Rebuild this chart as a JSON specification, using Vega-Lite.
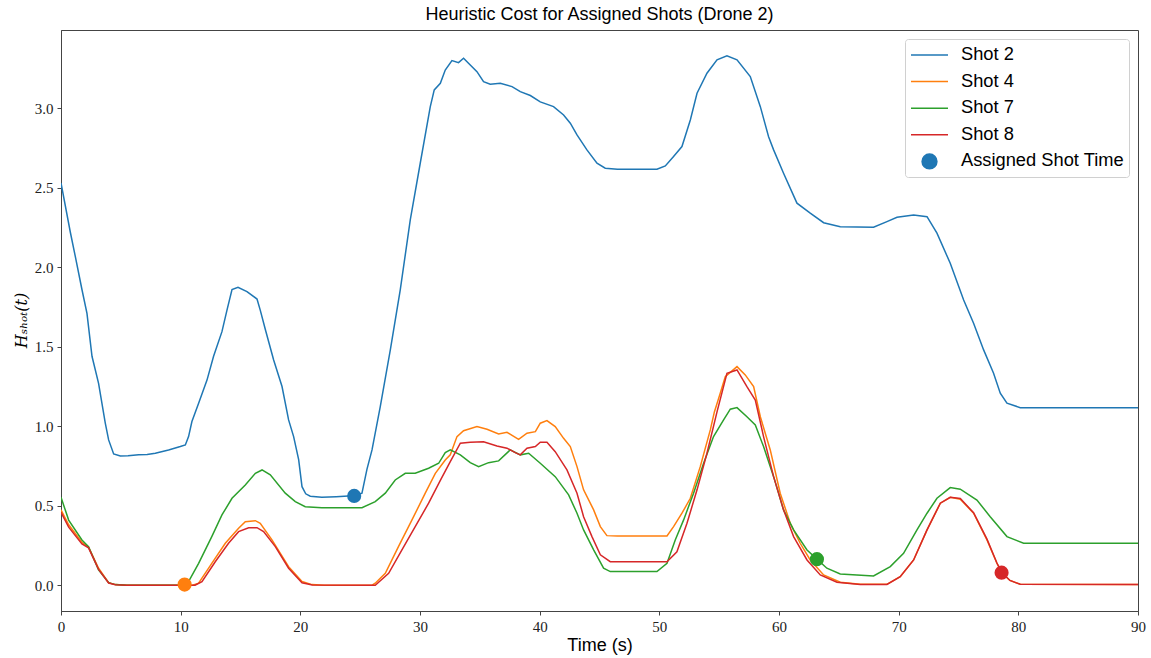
{
  "$schema": "https://vega.github.io/schema/vega-lite/v6.json",
  "width": 1077,
  "height": 581,
  "autosize": {"type": "none"},
  "padding": {"left": 61, "top": 30, "right": 13, "bottom": 47},
  "background": "white",
  "title": {
    "text": "Heuristic Cost for Assigned Shots (Drone 2)",
    "font": "Liberation Sans",
    "fontSize": 18,
    "fontWeight": "normal",
    "color": "black",
    "anchor": "middle",
    "frame": "group",
    "offset": 6
  },
  "config": {
    "view": {"stroke": "#444", "strokeWidth": 1},
    "axis": {
      "grid": false,
      "domainColor": "#444",
      "tickColor": "#444",
      "tickSize": 4,
      "labelFont": "Liberation Serif",
      "labelFontSize": 15,
      "labelColor": "#222",
      "labelPadding": 4,
      "labelFlush": false,
      "titleColor": "black"
    }
  },
  "datasets": {
    "curves": [
      {"shot": "Shot 2", "t": 0, "h": 2.53}, {"shot": "Shot 2", "t": 0.78, "h": 2.22}, {"shot": "Shot 2", "t": 1.19, "h": 2.07},
      {"shot": "Shot 2", "t": 1.75, "h": 1.86}, {"shot": "Shot 2", "t": 2.17, "h": 1.71}, {"shot": "Shot 2", "t": 2.59, "h": 1.44},
      {"shot": "Shot 2", "t": 3.14, "h": 1.27}, {"shot": "Shot 2", "t": 3.7, "h": 1.02}, {"shot": "Shot 2", "t": 3.98, "h": 0.914},
      {"shot": "Shot 2", "t": 4.4, "h": 0.826}, {"shot": "Shot 2", "t": 4.96, "h": 0.813}, {"shot": "Shot 2", "t": 5.6, "h": 0.815},
      {"shot": "Shot 2", "t": 6.49, "h": 0.82}, {"shot": "Shot 2", "t": 7.2, "h": 0.822}, {"shot": "Shot 2", "t": 7.88, "h": 0.83},
      {"shot": "Shot 2", "t": 8.99, "h": 0.851}, {"shot": "Shot 2", "t": 9.97, "h": 0.872}, {"shot": "Shot 2", "t": 10.39, "h": 0.882},
      {"shot": "Shot 2", "t": 10.66, "h": 0.935}, {"shot": "Shot 2", "t": 10.94, "h": 1.03}, {"shot": "Shot 2", "t": 11.5, "h": 1.145},
      {"shot": "Shot 2", "t": 12.2, "h": 1.29}, {"shot": "Shot 2", "t": 12.75, "h": 1.44}, {"shot": "Shot 2", "t": 13.45, "h": 1.595},
      {"shot": "Shot 2", "t": 13.87, "h": 1.73}, {"shot": "Shot 2", "t": 14.29, "h": 1.86}, {"shot": "Shot 2", "t": 14.79, "h": 1.874},
      {"shot": "Shot 2", "t": 15.54, "h": 1.847}, {"shot": "Shot 2", "t": 16.38, "h": 1.8}, {"shot": "Shot 2", "t": 16.65, "h": 1.73},
      {"shot": "Shot 2", "t": 17.07, "h": 1.61}, {"shot": "Shot 2", "t": 17.77, "h": 1.417}, {"shot": "Shot 2", "t": 18.47, "h": 1.25},
      {"shot": "Shot 2", "t": 19.02, "h": 1.04}, {"shot": "Shot 2", "t": 19.44, "h": 0.935}, {"shot": "Shot 2", "t": 19.86, "h": 0.79},
      {"shot": "Shot 2", "t": 20.14, "h": 0.62}, {"shot": "Shot 2", "t": 20.45, "h": 0.575}, {"shot": "Shot 2", "t": 20.83, "h": 0.56},
      {"shot": "Shot 2", "t": 21.8, "h": 0.553}, {"shot": "Shot 2", "t": 23.0, "h": 0.557}, {"shot": "Shot 2", "t": 24.0, "h": 0.562},
      {"shot": "Shot 2", "t": 24.5, "h": 0.562}, {"shot": "Shot 2", "t": 25.15, "h": 0.579}, {"shot": "Shot 2", "t": 25.57, "h": 0.73},
      {"shot": "Shot 2", "t": 25.99, "h": 0.851}, {"shot": "Shot 2", "t": 26.68, "h": 1.123}, {"shot": "Shot 2", "t": 27.52, "h": 1.48},
      {"shot": "Shot 2", "t": 28.35, "h": 1.857}, {"shot": "Shot 2", "t": 29.19, "h": 2.3}, {"shot": "Shot 2", "t": 30.02, "h": 2.654},
      {"shot": "Shot 2", "t": 30.86, "h": 3.01}, {"shot": "Shot 2", "t": 31.19, "h": 3.115}, {"shot": "Shot 2", "t": 31.7, "h": 3.157},
      {"shot": "Shot 2", "t": 32.11, "h": 3.24}, {"shot": "Shot 2", "t": 32.67, "h": 3.3}, {"shot": "Shot 2", "t": 33.22, "h": 3.287},
      {"shot": "Shot 2", "t": 33.64, "h": 3.314}, {"shot": "Shot 2", "t": 34.2, "h": 3.272}, {"shot": "Shot 2", "t": 34.76, "h": 3.23},
      {"shot": "Shot 2", "t": 35.31, "h": 3.167}, {"shot": "Shot 2", "t": 35.87, "h": 3.151}, {"shot": "Shot 2", "t": 36.71, "h": 3.157},
      {"shot": "Shot 2", "t": 37.69, "h": 3.136}, {"shot": "Shot 2", "t": 38.38, "h": 3.104}, {"shot": "Shot 2", "t": 39.22, "h": 3.08},
      {"shot": "Shot 2", "t": 40.05, "h": 3.04}, {"shot": "Shot 2", "t": 41.16, "h": 3.01}, {"shot": "Shot 2", "t": 42.0, "h": 2.958},
      {"shot": "Shot 2", "t": 42.56, "h": 2.906}, {"shot": "Shot 2", "t": 43.12, "h": 2.832}, {"shot": "Shot 2", "t": 43.95, "h": 2.738},
      {"shot": "Shot 2", "t": 44.79, "h": 2.654}, {"shot": "Shot 2", "t": 45.48, "h": 2.623}, {"shot": "Shot 2", "t": 46.5, "h": 2.616},
      {"shot": "Shot 2", "t": 49.8, "h": 2.616}, {"shot": "Shot 2", "t": 50.5, "h": 2.637}, {"shot": "Shot 2", "t": 51.19, "h": 2.696},
      {"shot": "Shot 2", "t": 51.89, "h": 2.759}, {"shot": "Shot 2", "t": 52.59, "h": 2.926}, {"shot": "Shot 2", "t": 53.15, "h": 3.094},
      {"shot": "Shot 2", "t": 53.98, "h": 3.22}, {"shot": "Shot 2", "t": 54.82, "h": 3.304}, {"shot": "Shot 2", "t": 55.65, "h": 3.329},
      {"shot": "Shot 2", "t": 56.49, "h": 3.304}, {"shot": "Shot 2", "t": 57.6, "h": 3.199}, {"shot": "Shot 2", "t": 58.44, "h": 3.01},
      {"shot": "Shot 2", "t": 59.13, "h": 2.821}, {"shot": "Shot 2", "t": 59.55, "h": 2.738}, {"shot": "Shot 2", "t": 60.38, "h": 2.591},
      {"shot": "Shot 2", "t": 61.5, "h": 2.403}, {"shot": "Shot 2", "t": 62.61, "h": 2.34}, {"shot": "Shot 2", "t": 63.73, "h": 2.28},
      {"shot": "Shot 2", "t": 65.12, "h": 2.255}, {"shot": "Shot 2", "t": 67.9, "h": 2.252}, {"shot": "Shot 2", "t": 69.02, "h": 2.287},
      {"shot": "Shot 2", "t": 69.86, "h": 2.314}, {"shot": "Shot 2", "t": 71.25, "h": 2.329}, {"shot": "Shot 2", "t": 72.37, "h": 2.318},
      {"shot": "Shot 2", "t": 73.2, "h": 2.214}, {"shot": "Shot 2", "t": 74.31, "h": 2.025}, {"shot": "Shot 2", "t": 75.43, "h": 1.794},
      {"shot": "Shot 2", "t": 76.26, "h": 1.648}, {"shot": "Shot 2", "t": 77.1, "h": 1.48}, {"shot": "Shot 2", "t": 77.93, "h": 1.333},
      {"shot": "Shot 2", "t": 78.49, "h": 1.208}, {"shot": "Shot 2", "t": 79.05, "h": 1.145}, {"shot": "Shot 2", "t": 80.16, "h": 1.117},
      {"shot": "Shot 2", "t": 90, "h": 1.117},

      {"shot": "Shot 4", "t": 0, "h": 0.474}, {"shot": "Shot 4", "t": 0.64, "h": 0.38}, {"shot": "Shot 4", "t": 1.75, "h": 0.27},
      {"shot": "Shot 4", "t": 2.3, "h": 0.24}, {"shot": "Shot 4", "t": 3.14, "h": 0.107}, {"shot": "Shot 4", "t": 3.98, "h": 0.016},
      {"shot": "Shot 4", "t": 4.54, "h": 0.004}, {"shot": "Shot 4", "t": 5.5, "h": 0.0}, {"shot": "Shot 4", "t": 11.0, "h": 0.0},
      {"shot": "Shot 4", "t": 11.5, "h": 0.013}, {"shot": "Shot 4", "t": 12.6, "h": 0.138}, {"shot": "Shot 4", "t": 13.73, "h": 0.264},
      {"shot": "Shot 4", "t": 14.84, "h": 0.358}, {"shot": "Shot 4", "t": 15.4, "h": 0.4}, {"shot": "Shot 4", "t": 16.24, "h": 0.406},
      {"shot": "Shot 4", "t": 16.65, "h": 0.39}, {"shot": "Shot 4", "t": 17.63, "h": 0.285}, {"shot": "Shot 4", "t": 19.02, "h": 0.117},
      {"shot": "Shot 4", "t": 20.14, "h": 0.023}, {"shot": "Shot 4", "t": 20.97, "h": 0.004}, {"shot": "Shot 4", "t": 22.0, "h": 0.0},
      {"shot": "Shot 4", "t": 26.0, "h": 0.0}, {"shot": "Shot 4", "t": 26.26, "h": 0.013}, {"shot": "Shot 4", "t": 27.1, "h": 0.075},
      {"shot": "Shot 4", "t": 28.2, "h": 0.243}, {"shot": "Shot 4", "t": 29.33, "h": 0.411}, {"shot": "Shot 4", "t": 30.44, "h": 0.579},
      {"shot": "Shot 4", "t": 31.28, "h": 0.704}, {"shot": "Shot 4", "t": 32.11, "h": 0.788}, {"shot": "Shot 4", "t": 32.53, "h": 0.82},
      {"shot": "Shot 4", "t": 33.09, "h": 0.935}, {"shot": "Shot 4", "t": 33.64, "h": 0.972}, {"shot": "Shot 4", "t": 34.76, "h": 0.998},
      {"shot": "Shot 4", "t": 35.6, "h": 0.981}, {"shot": "Shot 4", "t": 36.57, "h": 0.952}, {"shot": "Shot 4", "t": 37.27, "h": 0.962},
      {"shot": "Shot 4", "t": 38.24, "h": 0.918}, {"shot": "Shot 4", "t": 38.94, "h": 0.956}, {"shot": "Shot 4", "t": 39.64, "h": 0.966},
      {"shot": "Shot 4", "t": 40.05, "h": 1.019}, {"shot": "Shot 4", "t": 40.61, "h": 1.035}, {"shot": "Shot 4", "t": 41.3, "h": 0.998},
      {"shot": "Shot 4", "t": 42.0, "h": 0.924}, {"shot": "Shot 4", "t": 42.56, "h": 0.872}, {"shot": "Shot 4", "t": 43.12, "h": 0.746},
      {"shot": "Shot 4", "t": 43.67, "h": 0.6}, {"shot": "Shot 4", "t": 44.51, "h": 0.474}, {"shot": "Shot 4", "t": 45.07, "h": 0.369},
      {"shot": "Shot 4", "t": 45.62, "h": 0.312}, {"shot": "Shot 4", "t": 46.5, "h": 0.31}, {"shot": "Shot 4", "t": 50.64, "h": 0.31},
      {"shot": "Shot 4", "t": 51.19, "h": 0.369}, {"shot": "Shot 4", "t": 51.89, "h": 0.453}, {"shot": "Shot 4", "t": 52.59, "h": 0.547},
      {"shot": "Shot 4", "t": 53.42, "h": 0.746}, {"shot": "Shot 4", "t": 54.26, "h": 0.977}, {"shot": "Shot 4", "t": 54.6, "h": 1.09},
      {"shot": "Shot 4", "t": 55.09, "h": 1.208}, {"shot": "Shot 4", "t": 55.51, "h": 1.312}, {"shot": "Shot 4", "t": 56.49, "h": 1.375},
      {"shot": "Shot 4", "t": 57.18, "h": 1.323}, {"shot": "Shot 4", "t": 57.88, "h": 1.249}, {"shot": "Shot 4", "t": 58.44, "h": 1.06},
      {"shot": "Shot 4", "t": 59.27, "h": 0.851}, {"shot": "Shot 4", "t": 60.1, "h": 0.579}, {"shot": "Shot 4", "t": 60.94, "h": 0.39},
      {"shot": "Shot 4", "t": 61.77, "h": 0.264}, {"shot": "Shot 4", "t": 62.61, "h": 0.159}, {"shot": "Shot 4", "t": 63.73, "h": 0.065},
      {"shot": "Shot 4", "t": 65.12, "h": 0.019}, {"shot": "Shot 4", "t": 66.79, "h": 0.006}, {"shot": "Shot 4", "t": 69.02, "h": 0.006},
      {"shot": "Shot 4", "t": 70.13, "h": 0.054}, {"shot": "Shot 4", "t": 71.25, "h": 0.159}, {"shot": "Shot 4", "t": 72.37, "h": 0.348},
      {"shot": "Shot 4", "t": 73.48, "h": 0.516}, {"shot": "Shot 4", "t": 74.31, "h": 0.553}, {"shot": "Shot 4", "t": 75.15, "h": 0.541},
      {"shot": "Shot 4", "t": 76.26, "h": 0.453}, {"shot": "Shot 4", "t": 77.38, "h": 0.285}, {"shot": "Shot 4", "t": 78.21, "h": 0.138},
      {"shot": "Shot 4", "t": 78.63, "h": 0.079}, {"shot": "Shot 4", "t": 79.3, "h": 0.03}, {"shot": "Shot 4", "t": 80.16, "h": 0.006},
      {"shot": "Shot 4", "t": 90, "h": 0.005},

      {"shot": "Shot 7", "t": 0, "h": 0.553}, {"shot": "Shot 7", "t": 0.64, "h": 0.41}, {"shot": "Shot 7", "t": 1.75, "h": 0.285},
      {"shot": "Shot 7", "t": 2.3, "h": 0.243}, {"shot": "Shot 7", "t": 3.14, "h": 0.096}, {"shot": "Shot 7", "t": 3.98, "h": 0.016},
      {"shot": "Shot 7", "t": 4.54, "h": 0.004}, {"shot": "Shot 7", "t": 5.5, "h": 0.0}, {"shot": "Shot 7", "t": 10.4, "h": 0.0},
      {"shot": "Shot 7", "t": 10.66, "h": 0.023}, {"shot": "Shot 7", "t": 11.5, "h": 0.138}, {"shot": "Shot 7", "t": 12.6, "h": 0.306},
      {"shot": "Shot 7", "t": 13.45, "h": 0.442}, {"shot": "Shot 7", "t": 14.29, "h": 0.547}, {"shot": "Shot 7", "t": 15.4, "h": 0.631},
      {"shot": "Shot 7", "t": 16.24, "h": 0.704}, {"shot": "Shot 7", "t": 16.8, "h": 0.725}, {"shot": "Shot 7", "t": 17.49, "h": 0.694},
      {"shot": "Shot 7", "t": 18.74, "h": 0.579}, {"shot": "Shot 7", "t": 19.58, "h": 0.526}, {"shot": "Shot 7", "t": 20.41, "h": 0.494},
      {"shot": "Shot 7", "t": 21.8, "h": 0.488}, {"shot": "Shot 7", "t": 25.15, "h": 0.488}, {"shot": "Shot 7", "t": 26.26, "h": 0.526},
      {"shot": "Shot 7", "t": 27.1, "h": 0.579}, {"shot": "Shot 7", "t": 27.93, "h": 0.662}, {"shot": "Shot 7", "t": 28.77, "h": 0.704},
      {"shot": "Shot 7", "t": 29.6, "h": 0.704}, {"shot": "Shot 7", "t": 30.72, "h": 0.736}, {"shot": "Shot 7", "t": 31.56, "h": 0.767},
      {"shot": "Shot 7", "t": 32.11, "h": 0.834}, {"shot": "Shot 7", "t": 32.53, "h": 0.851}, {"shot": "Shot 7", "t": 33.37, "h": 0.82},
      {"shot": "Shot 7", "t": 34.2, "h": 0.771}, {"shot": "Shot 7", "t": 34.9, "h": 0.746}, {"shot": "Shot 7", "t": 35.73, "h": 0.771},
      {"shot": "Shot 7", "t": 36.57, "h": 0.782}, {"shot": "Shot 7", "t": 37.54, "h": 0.851}, {"shot": "Shot 7", "t": 38.38, "h": 0.82},
      {"shot": "Shot 7", "t": 39.08, "h": 0.83}, {"shot": "Shot 7", "t": 40.05, "h": 0.767}, {"shot": "Shot 7", "t": 41.3, "h": 0.683},
      {"shot": "Shot 7", "t": 42.42, "h": 0.568}, {"shot": "Shot 7", "t": 43.12, "h": 0.453}, {"shot": "Shot 7", "t": 43.67, "h": 0.348},
      {"shot": "Shot 7", "t": 44.51, "h": 0.222}, {"shot": "Shot 7", "t": 45.34, "h": 0.107}, {"shot": "Shot 7", "t": 45.9, "h": 0.086},
      {"shot": "Shot 7", "t": 49.8, "h": 0.086}, {"shot": "Shot 7", "t": 50.64, "h": 0.138}, {"shot": "Shot 7", "t": 51.33, "h": 0.285},
      {"shot": "Shot 7", "t": 52.03, "h": 0.411}, {"shot": "Shot 7", "t": 52.86, "h": 0.579}, {"shot": "Shot 7", "t": 53.7, "h": 0.767},
      {"shot": "Shot 7", "t": 54.53, "h": 0.935}, {"shot": "Shot 7", "t": 55.37, "h": 1.04}, {"shot": "Shot 7", "t": 55.93, "h": 1.107},
      {"shot": "Shot 7", "t": 56.49, "h": 1.117}, {"shot": "Shot 7", "t": 57.32, "h": 1.06}, {"shot": "Shot 7", "t": 58.02, "h": 1.008},
      {"shot": "Shot 7", "t": 58.71, "h": 0.872}, {"shot": "Shot 7", "t": 59.55, "h": 0.683}, {"shot": "Shot 7", "t": 60.38, "h": 0.474},
      {"shot": "Shot 7", "t": 61.22, "h": 0.348}, {"shot": "Shot 7", "t": 62.34, "h": 0.222}, {"shot": "Shot 7", "t": 63.17, "h": 0.164},
      {"shot": "Shot 7", "t": 64.0, "h": 0.107}, {"shot": "Shot 7", "t": 65.12, "h": 0.071}, {"shot": "Shot 7", "t": 67.9, "h": 0.058},
      {"shot": "Shot 7", "t": 69.3, "h": 0.117}, {"shot": "Shot 7", "t": 70.41, "h": 0.201}, {"shot": "Shot 7", "t": 71.53, "h": 0.348},
      {"shot": "Shot 7", "t": 72.37, "h": 0.453}, {"shot": "Shot 7", "t": 73.2, "h": 0.547}, {"shot": "Shot 7", "t": 74.31, "h": 0.614},
      {"shot": "Shot 7", "t": 75.15, "h": 0.604}, {"shot": "Shot 7", "t": 76.54, "h": 0.536}, {"shot": "Shot 7", "t": 77.65, "h": 0.431},
      {"shot": "Shot 7", "t": 79.05, "h": 0.306}, {"shot": "Shot 7", "t": 80.44, "h": 0.264}, {"shot": "Shot 7", "t": 90, "h": 0.264},

      {"shot": "Shot 8", "t": 0, "h": 0.459}, {"shot": "Shot 8", "t": 0.64, "h": 0.365}, {"shot": "Shot 8", "t": 1.75, "h": 0.26},
      {"shot": "Shot 8", "t": 2.3, "h": 0.235}, {"shot": "Shot 8", "t": 3.14, "h": 0.1}, {"shot": "Shot 8", "t": 3.98, "h": 0.014},
      {"shot": "Shot 8", "t": 4.54, "h": 0.003}, {"shot": "Shot 8", "t": 5.5, "h": 0.0}, {"shot": "Shot 8", "t": 11.2, "h": 0.0},
      {"shot": "Shot 8", "t": 11.78, "h": 0.023}, {"shot": "Shot 8", "t": 12.89, "h": 0.148}, {"shot": "Shot 8", "t": 14.0, "h": 0.264},
      {"shot": "Shot 8", "t": 14.84, "h": 0.337}, {"shot": "Shot 8", "t": 15.68, "h": 0.362}, {"shot": "Shot 8", "t": 16.38, "h": 0.362},
      {"shot": "Shot 8", "t": 16.93, "h": 0.337}, {"shot": "Shot 8", "t": 17.91, "h": 0.243}, {"shot": "Shot 8", "t": 19.02, "h": 0.107},
      {"shot": "Shot 8", "t": 20.14, "h": 0.016}, {"shot": "Shot 8", "t": 21.0, "h": 0.002}, {"shot": "Shot 8", "t": 26.26, "h": 0.0},
      {"shot": "Shot 8", "t": 27.38, "h": 0.075}, {"shot": "Shot 8", "t": 28.49, "h": 0.222}, {"shot": "Shot 8", "t": 29.6, "h": 0.369},
      {"shot": "Shot 8", "t": 30.72, "h": 0.516}, {"shot": "Shot 8", "t": 31.7, "h": 0.66}, {"shot": "Shot 8", "t": 32.53, "h": 0.777},
      {"shot": "Shot 8", "t": 33.37, "h": 0.893}, {"shot": "Shot 8", "t": 34.2, "h": 0.899}, {"shot": "Shot 8", "t": 35.31, "h": 0.903},
      {"shot": "Shot 8", "t": 36.43, "h": 0.876}, {"shot": "Shot 8", "t": 37.27, "h": 0.862}, {"shot": "Shot 8", "t": 37.96, "h": 0.834},
      {"shot": "Shot 8", "t": 38.38, "h": 0.82}, {"shot": "Shot 8", "t": 38.94, "h": 0.862}, {"shot": "Shot 8", "t": 39.64, "h": 0.872},
      {"shot": "Shot 8", "t": 40.05, "h": 0.899}, {"shot": "Shot 8", "t": 40.61, "h": 0.899}, {"shot": "Shot 8", "t": 41.3, "h": 0.84},
      {"shot": "Shot 8", "t": 42.28, "h": 0.725}, {"shot": "Shot 8", "t": 43.12, "h": 0.579}, {"shot": "Shot 8", "t": 43.67, "h": 0.431},
      {"shot": "Shot 8", "t": 44.37, "h": 0.306}, {"shot": "Shot 8", "t": 45.07, "h": 0.191}, {"shot": "Shot 8", "t": 45.9, "h": 0.148},
      {"shot": "Shot 8", "t": 50.64, "h": 0.148}, {"shot": "Shot 8", "t": 51.47, "h": 0.21}, {"shot": "Shot 8", "t": 52.31, "h": 0.39},
      {"shot": "Shot 8", "t": 53.15, "h": 0.6}, {"shot": "Shot 8", "t": 53.98, "h": 0.83}, {"shot": "Shot 8", "t": 54.82, "h": 1.09},
      {"shot": "Shot 8", "t": 55.65, "h": 1.333}, {"shot": "Shot 8", "t": 56.49, "h": 1.354}, {"shot": "Shot 8", "t": 57.32, "h": 1.249},
      {"shot": "Shot 8", "t": 58.02, "h": 1.165}, {"shot": "Shot 8", "t": 58.71, "h": 0.935}, {"shot": "Shot 8", "t": 59.55, "h": 0.683},
      {"shot": "Shot 8", "t": 60.38, "h": 0.474}, {"shot": "Shot 8", "t": 61.22, "h": 0.306}, {"shot": "Shot 8", "t": 62.34, "h": 0.159},
      {"shot": "Shot 8", "t": 63.45, "h": 0.065}, {"shot": "Shot 8", "t": 64.84, "h": 0.019}, {"shot": "Shot 8", "t": 66.79, "h": 0.005},
      {"shot": "Shot 8", "t": 69.02, "h": 0.005}, {"shot": "Shot 8", "t": 70.13, "h": 0.054}, {"shot": "Shot 8", "t": 71.25, "h": 0.159},
      {"shot": "Shot 8", "t": 72.37, "h": 0.348}, {"shot": "Shot 8", "t": 73.48, "h": 0.516}, {"shot": "Shot 8", "t": 74.31, "h": 0.553},
      {"shot": "Shot 8", "t": 75.15, "h": 0.545}, {"shot": "Shot 8", "t": 76.26, "h": 0.456}, {"shot": "Shot 8", "t": 77.38, "h": 0.29},
      {"shot": "Shot 8", "t": 78.21, "h": 0.14}, {"shot": "Shot 8", "t": 78.63, "h": 0.079}, {"shot": "Shot 8", "t": 79.3, "h": 0.03},
      {"shot": "Shot 8", "t": 80.16, "h": 0.006}, {"shot": "Shot 8", "t": 90, "h": 0.005}
    ],
    "assigned": [
      {"shot": "Shot 2", "t": 24.5, "h": 0.562},
      {"shot": "Shot 4", "t": 10.33, "h": 0.004},
      {"shot": "Shot 7", "t": 63.17, "h": 0.164},
      {"shot": "Shot 8", "t": 78.6, "h": 0.079}
    ]
  },
  "encoding": {
    "x": {
      "field": "t",
      "type": "quantitative",
      "scale": {"domain": [0, 90], "nice": false, "zero": false},
      "axis": {
        "values": [0, 10, 20, 30, 40, 50, 60, 70, 80, 90],
        "title": "Time (s)",
        "titleFont": "Liberation Sans",
        "titleFontSize": 18,
        "titleFontWeight": "normal",
        "titleBaseline": "alphabetic",
        "titleY": 39
      }
    },
    "y": {
      "field": "h",
      "type": "quantitative",
      "scale": {"domain": [-0.162, 3.492], "nice": false, "zero": false},
      "axis": {
        "values": [0, 0.5, 1, 1.5, 2, 2.5, 3],
        "format": ".1f",
        "title": "Hₛₕₒₜ(t)",
        "titleFont": "DejaVu Serif",
        "titleFontStyle": "italic",
        "titleFontWeight": "normal",
        "titleFontSize": 16,
        "titleAngle": -90,
        "titleBaseline": "middle",
        "titleAlign": "center",
        "titleX": -40,
        "titleY": 290
      }
    },
    "color": {
      "field": "shot",
      "type": "nominal",
      "scale": {
        "domain": ["Shot 2", "Shot 4", "Shot 7", "Shot 8", "Assigned Shot Time"],
        "range": ["#1f77b4", "#ff7f0e", "#2ca02c", "#d62728", "#1f77b4"]
      },
      "legend": {
        "title": null,
        "orient": "top-right",
        "offset": 9,
        "padding": 5,
        "strokeColor": "#d0d0d0",
        "fillColor": "white",
        "cornerRadius": 3,
        "labelFont": "Liberation Sans",
        "labelFontSize": 18.3,
        "labelColor": "black",
        "labelLimit": 400,
        "labelOffset": 12,
        "rowPadding": 6.6,
        "symbolType": "stroke",
        "symbolSize": 400,
        "symbolStrokeWidth": 1.5,
        "encode": {
          "symbols": {
            "update": {
              "y": {"value": 11},
              "shape": {"signal": "datum.value === 'Assigned Shot Time' ? 'circle' : 'M-1,0L1,0'"},
              "size": {"signal": "datum.value === 'Assigned Shot Time' ? 220 : 1369"},
              "fill": {"signal": "datum.value === 'Assigned Shot Time' ? '#1f77b4' : 'transparent'"},
              "stroke": {"signal": "datum.value === 'Assigned Shot Time' ? 'transparent' : scale('color', datum.value)"},
              "strokeWidth": {"value": 1.5},
              "opacity": {"value": 1}
            }
          },
          "labels": {
            "update": {
              "y": {"value": 11}
            }
          }
        }
      }
    }
  },
  "layer": [
    {
      "data": {"name": "curves"},
      "mark": {"type": "line", "strokeWidth": 1.5, "clip": true}
    },
    {
      "data": {"name": "assigned"},
      "mark": {"type": "point", "filled": true, "size": 200, "opacity": 1, "strokeWidth": 0}
    }
  ]
}
